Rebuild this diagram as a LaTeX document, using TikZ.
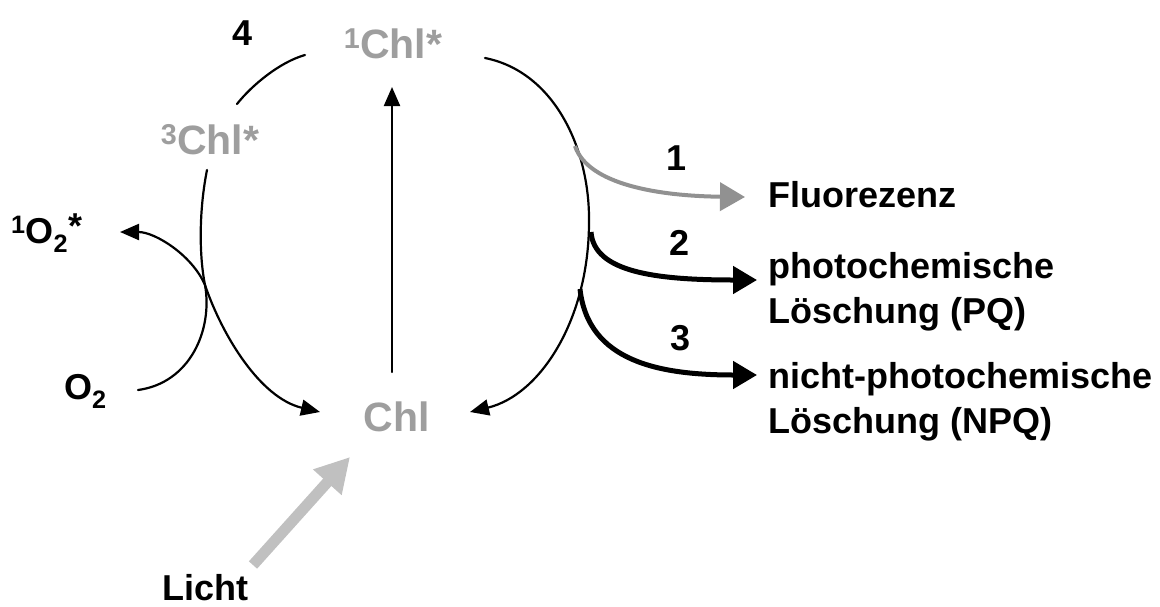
\documentclass[tikz,border=0pt]{standalone}
\usepackage{fontspec}
\setmainfont{Liberation Sans}
\usetikzlibrary{arrows.meta}
\definecolor{statecol}{RGB}{158,158,158}
\definecolor{fluocol}{RGB}{145,145,145}
\definecolor{lightcol}{RGB}{192,192,192}
\begin{document}
\begin{tikzpicture}[x=1pt,y=-1pt,
  lbl/.style={inner sep=0pt, font=\fontsize{36}{45}\selectfont\bfseries, text=black},
  state/.style={inner sep=0pt, font=\fontsize{41}{48}\selectfont\bfseries, text=statecol},
  thinline/.style={line width=2.2pt, line cap=round},
  thinarrow/.style={thinline, -{Triangle[length=19pt,width=16pt]}},
  quench/.style={line width=5pt, -{Triangle[length=24pt,width=27pt]}},
  fluo/.style={line width=4pt, draw=fluocol, -{Triangle[length=25pt,width=28pt]}},
  lightarrow/.style={line width=11pt, draw=lightcol, -{Triangle[length=34pt,width=36pt]}}]
\useasboundingbox (0,0) rectangle (1160,606);

% states
\node[state, anchor=base] (s1) at (393,58) {\textsuperscript{1}Chl*};
\node[state, anchor=base] (t3) at (210,154) {\textsuperscript{3}Chl*};
\node[state, anchor=base] (g0) at (397,431) {Chl};
\node[lbl, anchor=base] (n4) at (243,45) {4};

% oxygen
\node[lbl, anchor=base west] (os) at (11,243) {\textsuperscript{1}O\textsubscript{2}\raisebox{5pt}{*}};
\node[lbl, anchor=base west] (ox) at (64,399) {O\textsubscript{2}};
\node[lbl, anchor=base west] (li) at (162,600) {Licht};

% outcomes
\node[lbl, anchor=base west] (fl) at (768,207) {Fluorezenz};
\node[lbl, anchor=base west] (pq) at (768,278) {photochemische};
\node[lbl, anchor=base west] (pq2) at (768,323) {Löschung (PQ)};
\node[lbl, anchor=base west] (npq) at (768,388) {nicht-photochemische};
\node[lbl, anchor=base west] (npq2) at (768,433) {Löschung (NPQ)};
\node[lbl, anchor=base] (k1) at (677,170) {1};
\node[lbl, anchor=base] (k2) at (680,255) {2};
\node[lbl, anchor=base] (k3) at (681,350) {3};

% anchor points of the connectors
\coordinate (s1r) at (485,58);
\coordinate (rm) at (589,222);
\coordinate (g0r) at (470,412);
\coordinate (g0l) at (320,412);
\coordinate (s1l) at (305,55);
\coordinate (t3u) at (237,104);
\coordinate (t3d) at (207,170);
\coordinate (kiss) at (205,285);
\coordinate (oxr) at (138,390);
\coordinate (osr) at (120,232);
\coordinate (g0u) at (392,372);
\coordinate (s1d) at (392,87);
\coordinate (b1) at (575,146);
\coordinate (b2) at (591,232);
\coordinate (b3) at (580,289);
\coordinate (e1) at (745,197);
\coordinate (e2) at (757,280);
\coordinate (e3) at (757,375);
\coordinate (lt) at (253,565);
\coordinate (lh) at (350,457);

% excitation
\draw[thinarrow] (g0u) -- (s1d);
% decay of the singlet state
\draw[thinarrow] (s1r) .. controls (555,72) and (590,150) .. (rm)
  .. controls (589,320) and (540,395) .. (g0r);
% intersystem crossing
\draw[thinline] (s1l) .. controls (280,62) and (252,85) .. (t3u);
% triplet back to ground state
\draw[thinarrow] (t3d) .. controls (199,210) and (199,255) .. (kiss)
  .. controls (222,335) and (260,398) .. (g0l);
% singlet oxygen formation
\draw[thinarrow] (oxr) .. controls (190,383) and (213,330) .. (kiss)
  .. controls (192,255) and (155,232) .. (osr);

% de-excitation pathways
\draw[fluo] (b1) .. controls (588,185) and (660,196) .. (e1);
\draw[quench] (b2) .. controls (594,272) and (655,280) .. (e2);
\draw[quench] (b3) .. controls (588,362) and (660,375) .. (e3);

% light absorption
\draw[lightarrow] (lt) -- (lh);
\end{tikzpicture}
\end{document}
